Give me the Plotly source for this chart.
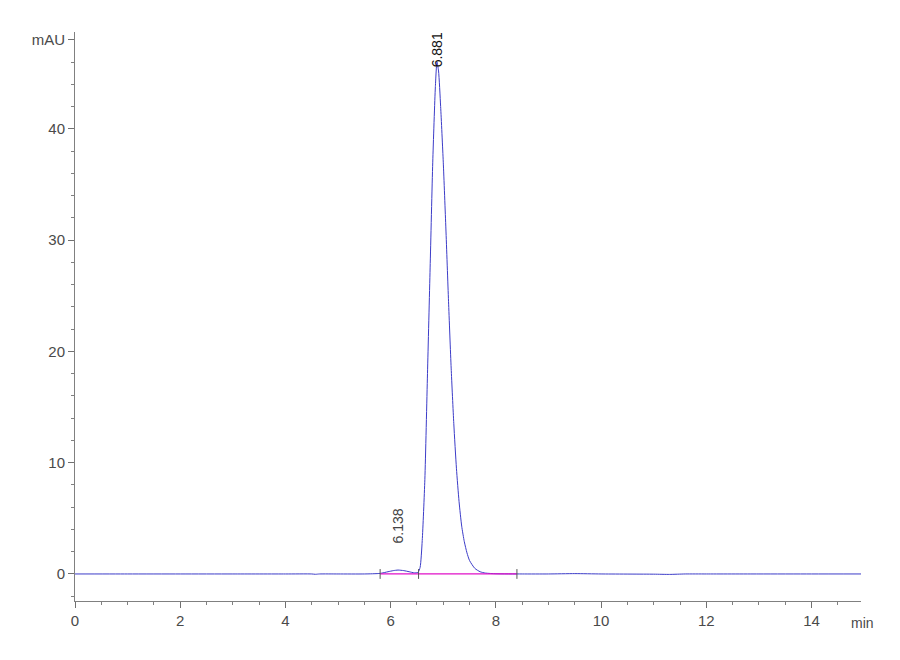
import plotly.graph_objects as go

# chromatogram trace (min, mAU)
time_min = [0.0, 1.0, 2.0, 3.0, 4.0, 4.5, 4.57, 4.65, 5.0, 5.5, 5.8, 5.95, 6.05,
            6.14, 6.25, 6.35, 6.45, 6.52, 6.56, 6.60, 6.65, 6.70, 6.75, 6.80,
            6.85, 6.88, 6.91, 6.95, 7.00, 7.05, 7.10, 7.15, 7.20, 7.25, 7.30,
            7.35, 7.40, 7.45, 7.50, 7.60, 7.70, 7.80, 8.00, 8.50, 9.00, 9.50,
            10.0, 11.0, 11.3, 11.6, 12.0, 13.0, 14.0, 14.94]
signal_mau = [0.0, 0.0, 0.0, 0.0, 0.0, 0.0, -0.03, 0.0, 0.0, 0.0, 0.05, 0.2, 0.3,
              0.35, 0.3, 0.2, 0.1, 0.15, 0.6, 3.0, 8.5, 18.0, 27.5, 37.0,
              43.8, 46.0, 45.2, 42.0, 37.0, 31.0, 24.5, 18.5, 13.5, 9.5, 6.5,
              4.3, 2.9, 1.9, 1.2, 0.5, 0.2, 0.08, 0.02, 0.0, 0.0, 0.03,
              0.0, -0.02, -0.04, 0.0, 0.0, 0.0, 0.0, 0.0]

# integration baseline and peak events
baseline_t = [5.80, 8.40]
baseline_y = [0.0, 0.0]
event_t = [5.80, 6.53, 8.40]
event_y = [0.0, 0.0, 0.0]

peak_rt = [6.138, 6.881]
peak_label_y = [2.6, 45.3]
peak_label_color = ["#444444", "#111111"]

y_ticks = [0, 10, 20, 30, 40, 48]
y_ticktext = ["0", "10", "20", "30", "40", "mAU"]
x_ticks = [0, 2, 4, 6, 8, 10, 12, 14]

fig = go.Figure()

fig.add_trace(
    go.Scatter(
        x=time_min, y=signal_mau, mode="lines",
        line=dict(color="#3c3cc8", width=1, shape="spline", smoothing=0.6),
        hoverinfo="skip",
    )
)
fig.add_trace(
    go.Scatter(
        x=baseline_t, y=baseline_y, mode="lines",
        line=dict(color="#e010c8", width=1.2),
        hoverinfo="skip",
    )
)
fig.add_trace(
    go.Scatter(
        x=event_t, y=event_y, mode="markers",
        marker=dict(symbol="line-ns-open", size=7, color="#555555",
                    line=dict(color="#555555", width=1)),
        hoverinfo="skip",
    )
)

for rt, ly, col in zip(peak_rt, peak_label_y, peak_label_color):
    fig.add_annotation(
        x=rt, y=ly, text=f"{rt:.3f}", showarrow=False, textangle=-90,
        xanchor="center", yanchor="bottom",
        font=dict(family="Liberation Sans, Arial", size=14, color=col),
    )

fig.add_annotation(
    x=1.0, xref="paper", y=0, yref="paper", yshift=-12, xshift=-12,
    text="min", showarrow=False, xanchor="left", yanchor="top",
    font=dict(family="Liberation Sans Narrow, Arial", size=14, color="#4a4a4a"),
)

axis_font = dict(family="Liberation Sans Narrow, Arial", size=15, color="#4a4a4a")

fig.update_xaxes(
    range=[0, 14.94], tickvals=x_ticks, ticks="outside", ticklen=6, tickcolor="#707070",
    showline=True, linecolor="#808080", linewidth=1, showgrid=False, zeroline=False,
    tickfont=axis_font,
    minor=dict(dtick=0.5, tick0=0, ticks="outside", ticklen=3, tickcolor="#808080"),
)
fig.update_yaxes(
    range=[-2.43, 48.7], tickvals=y_ticks, ticktext=y_ticktext, ticks="outside",
    ticklen=6, tickcolor="#707070", showline=True, linecolor="#808080", linewidth=1,
    showgrid=False, zeroline=False, tickfont=axis_font,
    minor=dict(dtick=2, tick0=0, ticks="outside", ticklen=3, tickcolor="#808080"),
)

# the page body adds an 8 px offset, so margins are trimmed to match
fig.update_layout(
    width=900, height=660, showlegend=False,
    plot_bgcolor="white", paper_bgcolor="white",
    margin=dict(l=67, r=47, t=24, b=67),
)

fig.write_html("out.html")
